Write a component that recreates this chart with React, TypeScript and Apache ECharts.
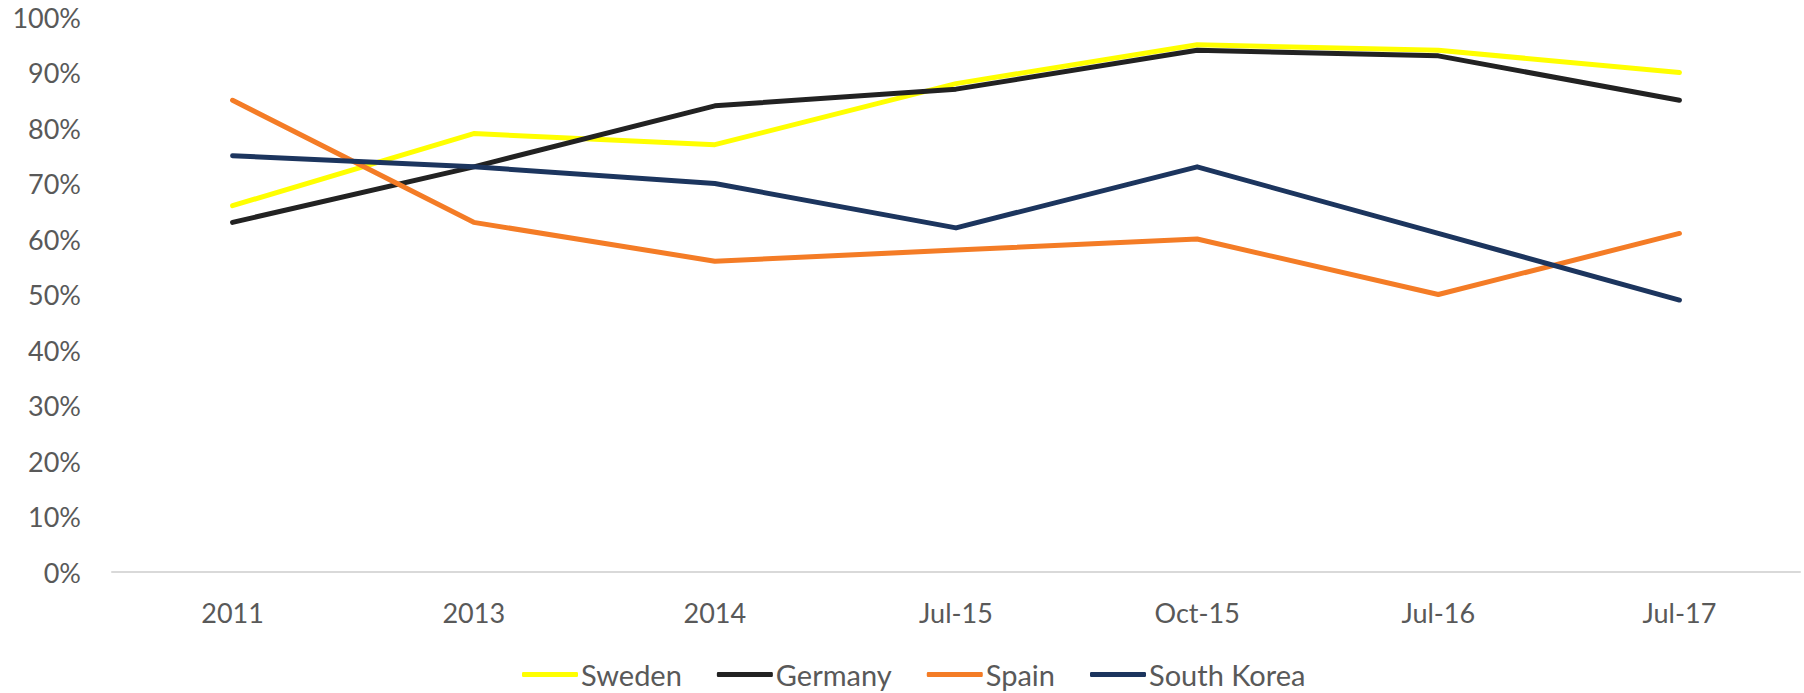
import React, { useEffect, useRef } from "react";
import * as echarts from "echarts";

const categories = ["2011", "2013", "2014", "Jul-15", "Oct-15", "Jul-16", "Jul-17"];
const sweden = [66, 79, 77, 88, 95, 94, 90];
const germany = [63, 73, 84, 87, 94, 93, 85];
const spain = [85, 63, 56, 58, 60, 50, 61];
const southKorea = [75, 73, 70, 62, 73, 61, 49];

const seriesDefs = [
  { name: "Sweden", data: sweden, color: "#FFFF00" },
  { name: "Germany", data: germany, color: "#222222" },
  { name: "Spain", data: spain, color: "#F47C26" },
  { name: "South Korea", data: southKorea, color: "#1C355E" },
];

export default function App() {
  const ref = useRef<HTMLDivElement>(null);
  useEffect(() => {
    document.body.style.margin = "0";
    const chart = echarts.init(ref.current!, null, { renderer: "svg" });
    const font = "Lato";
    chart.setOption({
      animation: false,
      backgroundColor: "#ffffff",
      grid: { left: 112, right: 4, top: 17, bottom: 121, containLabel: false },
      legend: {
        left: 517,
        top: 655,
        itemWidth: 56,
        itemHeight: 5,
        itemGap: 35,
        icon: "roundRect",
        textStyle: { fontFamily: font, fontSize: 29, color: "#595959", padding: [0, 0, 0, -2] },
        data: seriesDefs.map((s) => s.name),
      },
      xAxis: {
        type: "category",
        data: categories,
        boundaryGap: true,
        axisLine: { show: true, lineStyle: { color: "#D9D9D9", width: 2 } },
        axisTick: { show: false },
        axisLabel: { fontFamily: font, fontSize: 27, color: "#595959", margin: 27 },
        splitLine: { show: false },
      },
      yAxis: {
        type: "value",
        min: 0,
        max: 100,
        interval: 10,
        axisLine: { show: false },
        axisTick: { show: false },
        splitLine: { show: false },
        axisLabel: {
          fontFamily: font,
          fontSize: 27,
          color: "#595959",
          margin: 31,
          formatter: (v: number) => `${v}%`,
        },
      },
      series: seriesDefs.map((s) => ({
        name: s.name,
        type: "line",
        data: s.data,
        symbol: "none",
        color: s.color,
        lineStyle: { color: s.color, width: 5, cap: "round", join: "round" },
        itemStyle: { color: s.color },
      })),
    });
    return () => chart.dispose();
  }, []);
  return (
    <div
      ref={ref}
      style={{ position: "fixed", left: 0, top: 0, width: 1804, height: 693 }}
    />
  );
}
